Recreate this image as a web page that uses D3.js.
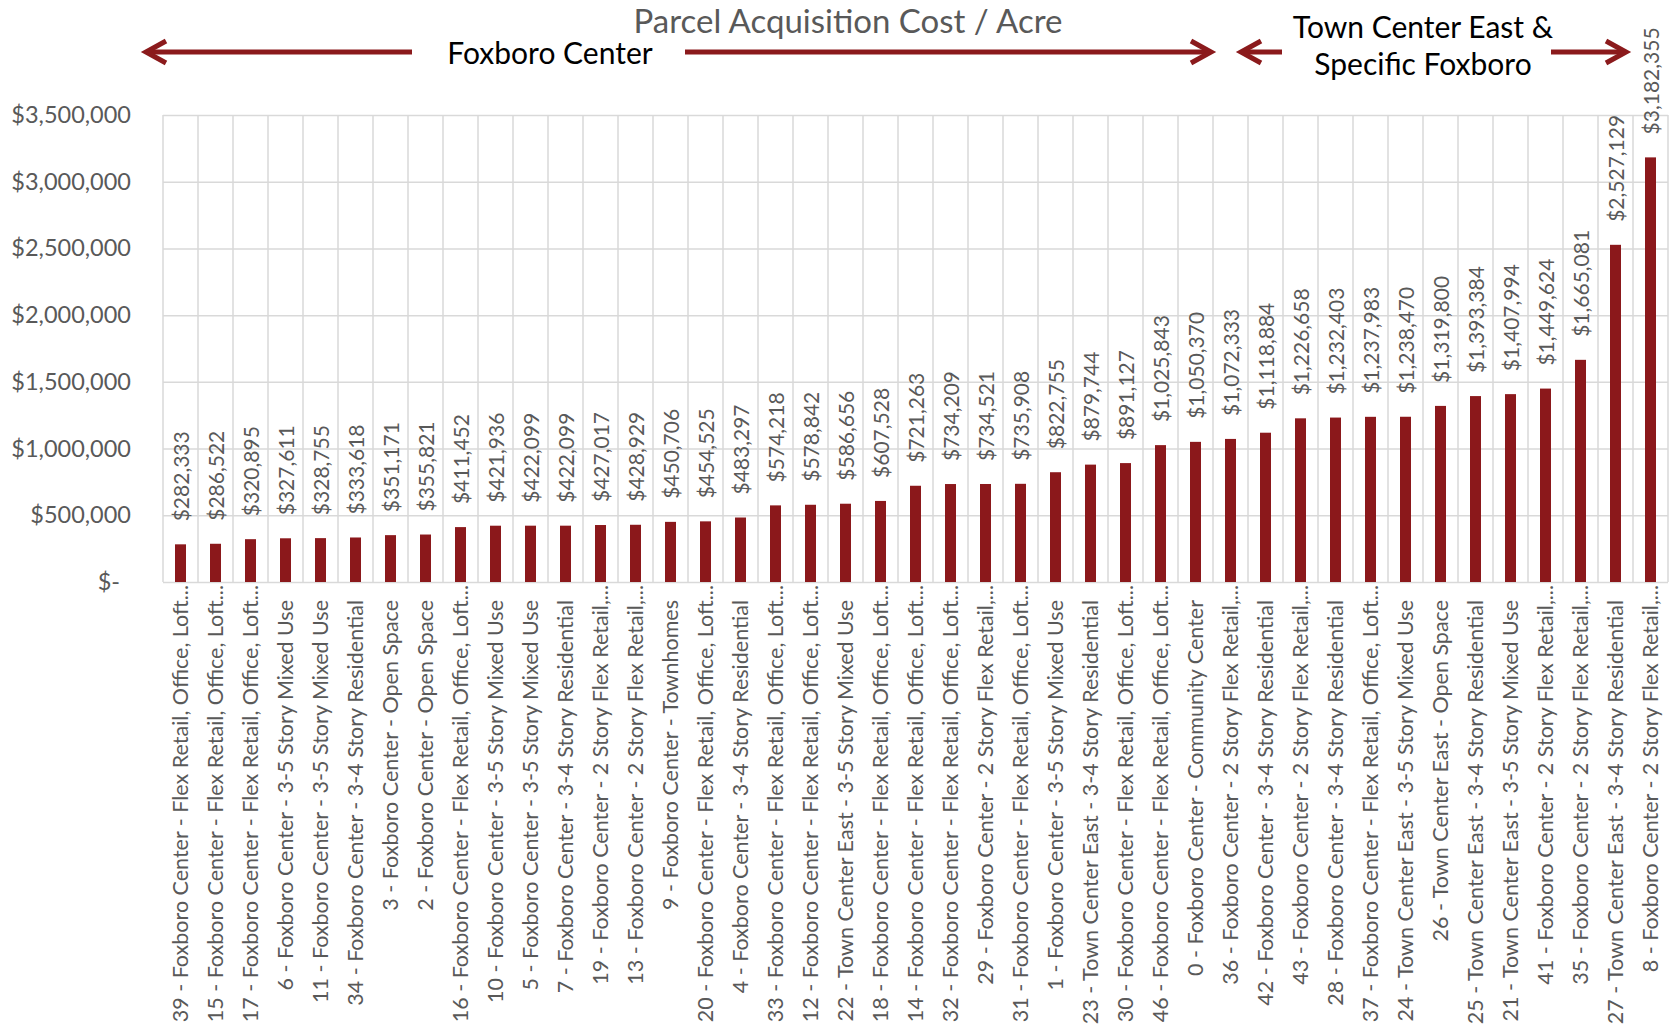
<!DOCTYPE html>
<html>
<head>
<meta charset="utf-8">
<script src="https://cdn.jsdelivr.net/npm/d3@7"></script>
<style>
  body { margin: 0; background: #fff; }
  svg { display: block; }
  text { font-family: Lato, "Open Sans", sans-serif; }
</style>
</head>
<body>
<svg width="1674" height="1035"></svg>
<script>
// parcels, sorted by cost per acre
const parcels = [
  "39 - Foxboro Center - Flex Retail, Office, Loft...",
  "15 - Foxboro Center - Flex Retail, Office, Loft...",
  "17 - Foxboro Center - Flex Retail, Office, Loft...",
  "6 - Foxboro Center - 3-5 Story Mixed Use",
  "11 - Foxboro Center - 3-5 Story Mixed Use",
  "34 - Foxboro Center - 3-4 Story Residential",
  "3 - Foxboro Center - Open Space",
  "2 - Foxboro Center - Open Space",
  "16 - Foxboro Center - Flex Retail, Office, Loft...",
  "10 - Foxboro Center - 3-5 Story Mixed Use",
  "5 - Foxboro Center - 3-5 Story Mixed Use",
  "7 - Foxboro Center - 3-4 Story Residential",
  "19 - Foxboro Center - 2 Story Flex Retail,...",
  "13 - Foxboro Center - 2 Story Flex Retail,...",
  "9 - Foxboro Center - Townhomes",
  "20 - Foxboro Center - Flex Retail, Office, Loft...",
  "4 - Foxboro Center - 3-4 Story Residential",
  "33 - Foxboro Center - Flex Retail, Office, Loft...",
  "12 - Foxboro Center - Flex Retail, Office, Loft...",
  "22 - Town Center East - 3-5 Story Mixed Use",
  "18 - Foxboro Center - Flex Retail, Office, Loft...",
  "14 - Foxboro Center - Flex Retail, Office, Loft...",
  "32 - Foxboro Center - Flex Retail, Office, Loft...",
  "29 - Foxboro Center - 2 Story Flex Retail,...",
  "31 - Foxboro Center - Flex Retail, Office, Loft...",
  "1 - Foxboro Center - 3-5 Story Mixed Use",
  "23 - Town Center East - 3-4 Story Residential",
  "30 - Foxboro Center - Flex Retail, Office, Loft...",
  "46 - Foxboro Center - Flex Retail, Office, Loft...",
  "0 - Foxboro Center - Community Center",
  "36 - Foxboro Center - 2 Story Flex Retail,...",
  "42 - Foxboro Center - 3-4 Story Residential",
  "43 - Foxboro Center - 2 Story Flex Retail,...",
  "28 - Foxboro Center - 3-4 Story Residential",
  "37 - Foxboro Center - Flex Retail, Office, Loft...",
  "24 - Town Center East - 3-5 Story Mixed Use",
  "26 - Town Center East - Open Space",
  "25 - Town Center East - 3-4 Story Residential",
  "21 - Town Center East - 3-5 Story Mixed Use",
  "41 - Foxboro Center - 2 Story Flex Retail,...",
  "35 - Foxboro Center - 2 Story Flex Retail,...",
  "27 - Town Center East - 3-4 Story Residential",
  "8 - Foxboro Center - 2 Story Flex Retail,..."
];

const costPerAcre = [
  282333, 286522, 320895, 327611, 328755, 333618, 351171, 355821, 411452,
  421936, 422099, 422099, 427017, 428929, 450706, 454525, 483297, 574218,
  578842, 586656, 607528, 721263, 734209, 734521, 735908, 822755, 879744,
  891127, 1025843, 1050370, 1072333, 1118884, 1226658, 1232403, 1237983,
  1238470, 1319800, 1393384, 1407994, 1449624, 1665081, 2527129, 3182355
];

const yTicks = [0, 500000, 1000000, 1500000, 2000000, 2500000, 3000000, 3500000];

const barColor = "#8b181b";
const gridColor = "#d9d9d9";
const textGray = "#595959";

let plotLeft = 163, plotRight = 1668, plotTop = 115, plotBottom = 582;

let svg = d3.select("svg");

let data = parcels.map((p, i) => ({ name: p, value: costPerAcre[i] }));

let xScale = d3.scaleBand()
  .domain(parcels)
  .range([plotLeft, plotRight])
  .padding(0);

let yScale = d3.scaleLinear()
  .domain([0, 3500000])
  .range([plotBottom, plotTop]);

let barWidth = 11;

/// horizontal grid + y labels ///
let yAxis = svg.append("g")
  .attr("transform", `translate(${plotLeft},0)`)
  .call(d3.axisLeft(yScale)
    .tickValues(yTicks)
    .tickSize(-(plotRight - plotLeft))
    .tickPadding(32)
    .tickFormat(d => d === 0 ? "$-" : d3.format("$,")(d)));

yAxis.select(".domain").remove();
yAxis.selectAll(".tick line")
  .attr("stroke", gridColor)
  .attr("stroke-width", 1.5);
yAxis.selectAll(".tick text")
  .attr("fill", textGray)
  .style("font-size", "23.5px")
  .style("font-family", "Lato, sans-serif")
  .attr("dx", d => d === 0 ? -11 : 0);

/// vertical grid lines at category edges ///
let edges = parcels.map(p => xScale(p)).concat([xScale(parcels[parcels.length - 1]) + xScale.bandwidth()]);
svg.append("g")
  .selectAll("line")
  .data(edges)
  .enter()
  .append("line")
  .attr("x1", d => d)
  .attr("x2", d => d)
  .attr("y1", plotTop)
  .attr("y2", plotBottom)
  .attr("stroke", gridColor)
  .attr("stroke-width", 1.5);

/// bars ///
svg.append("g")
  .selectAll("rect")
  .data(data)
  .enter()
  .append("rect")
  .attr("x", d => xScale(d.name) + xScale.bandwidth() / 2 - barWidth / 2)
  .attr("width", barWidth)
  .attr("y", d => yScale(d.value))
  .attr("height", d => plotBottom - yScale(d.value))
  .attr("fill", barColor);

/// value labels ///
svg.append("g")
  .selectAll("text")
  .data(data)
  .enter()
  .append("text")
  .attr("transform", d => `translate(${xScale(d.name) + xScale.bandwidth() / 2 + 1}, ${yScale(d.value) - 23}) rotate(-90)`)
  .attr("dy", "0.36em")
  .attr("text-anchor", "start")
  .attr("fill", textGray)
  .style("font-size", "21px")
  .text(d => d3.format("$,")(d.value));

/// category labels ///
svg.append("g")
  .selectAll("text")
  .data(parcels)
  .enter()
  .append("text")
  .attr("transform", d => `translate(${xScale(d) + xScale.bandwidth() / 2}, ${plotBottom + (d.endsWith("...") ? 3 : 18)}) rotate(-90)`)
  .attr("dy", "0.36em")
  .attr("text-anchor", "end")
  .attr("fill", textGray)
  .style("font-size", "21.5px")
  .text(d => d);

/// Title ///
svg.append("text")
  .attr("x", 848)
  .attr("y", 33)
  .attr("text-anchor", "middle")
  .attr("fill", textGray)
  .style("font-size", "33px")
  .text("Parcel Acquisition Cost / Acre");

/// area annotations ///
let notes = svg.append("g")
  .attr("fill", "#000")
  .attr("text-anchor", "middle")
  .style("font-size", "30px");

notes.append("text").attr("x", 550).attr("y", 64).text("Foxboro Center");
notes.append("text").attr("x", 1423).attr("y", 38).text("Town Center East &");
notes.append("text").attr("x", 1423).attr("y", 75).text("Specific Foxboro");

// arrows: [from, tip]
let arrows = [
  [412, 146],
  [685, 1211],
  [1282, 1241],
  [1551, 1626]
];
let ay = 52;
let arrowG = svg.append("g")
  .attr("stroke", "#8b1a1c")
  .attr("stroke-width", 5)
  .attr("fill", "none");

arrows.forEach(([from, tip]) => {
  let dir = tip > from ? -1 : 1;
  arrowG.append("line")
    .attr("x1", from).attr("x2", tip + dir * 2)
    .attr("y1", ay).attr("y2", ay);
  arrowG.append("path")
    .attr("stroke-linejoin", "miter")
    .attr("d", `M${tip + dir * 20},${ay - 11} L${tip},${ay} L${tip + dir * 20},${ay + 11}`);
});
</script>
</body>
</html>
